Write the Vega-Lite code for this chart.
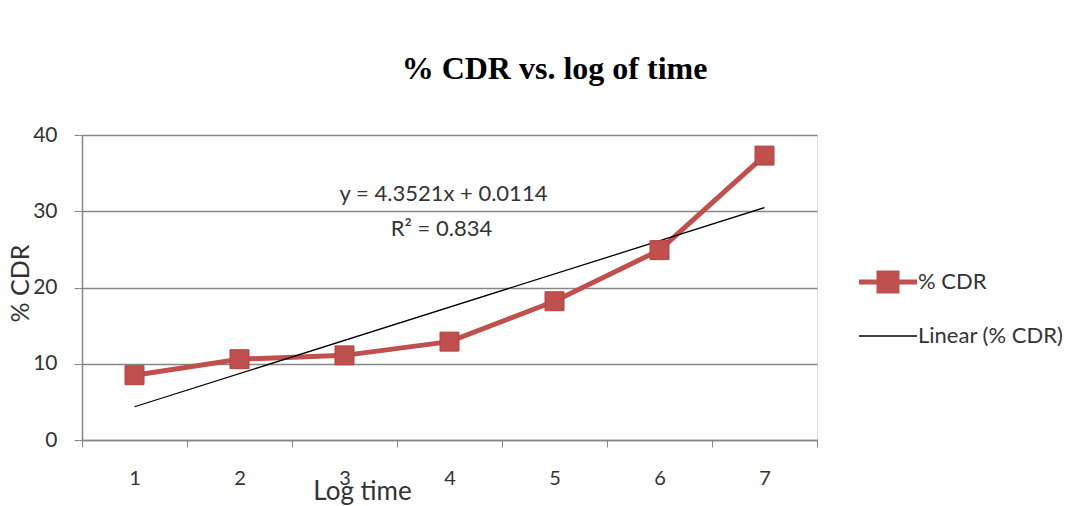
{
  "$schema": "https://vega.github.io/schema/vega-lite/v6.json",
  "width": 735,
  "height": 305,
  "autosize": {"type": "none"},
  "padding": {"left": 82, "top": 135, "right": 273, "bottom": 66},
  "background": "white",
  "title": {
    "text": "% CDR vs. log of time",
    "font": "Liberation Serif",
    "fontSize": 32,
    "fontWeight": "bold",
    "color": "black",
    "anchor": "middle",
    "dx": 105,
    "offset": 38
  },
  "datasets": {
    "cdr": [
      {"t": "1", "v": 8.5, "series": "% CDR"},
      {"t": "2", "v": 10.6, "series": "% CDR"},
      {"t": "3", "v": 11.1, "series": "% CDR"},
      {"t": "4", "v": 12.9, "series": "% CDR"},
      {"t": "5", "v": 18.2, "series": "% CDR"},
      {"t": "6", "v": 24.9, "series": "% CDR"},
      {"t": "7", "v": 37.3, "series": "% CDR"}
    ],
    "trend": [
      {"t": "1", "v": 4.36, "series": "Linear (% CDR)"},
      {"t": "7", "v": 30.48, "series": "Linear (% CDR)"}
    ],
    "eq1": [{"t": "4", "v": 30, "label": "y = 4.3521x + 0.0114"}],
    "eq2": [{"t": "4", "v": 30, "label": "R² = 0.834"}]
  },
  "encoding": {
    "x": {
      "field": "t",
      "type": "ordinal",
      "scale": {"type": "band", "domain": ["1","2","3","4","5","6","7"], "paddingInner": 0, "paddingOuter": 0},
      "axis": {
        "title": "Log time",
        "titleFont": "Lato",
        "titleFontSize": 26,
        "titleFontWeight": "normal",
        "titleColor": "#333333",
        "titleX": 280,
        "titleY": 59,
        "titleAlign": "center",
        "titleBaseline": "alphabetic",
        "labelAngle": 0,
        "labelFont": "Lato",
        "labelFontSize": 20,
        "labelColor": "#333333",
        "labelPadding": 21,
        "tickBand": "extent",
        "tickSize": 7,
        "tickColor": "#868686",
        "domainColor": "#868686",
        "domainWidth": 1.5,
        "grid": false
      }
    },
    "y": {
      "field": "v",
      "type": "quantitative",
      "scale": {"domain": [0, 40], "nice": false, "zero": true},
      "axis": {
        "title": "% CDR",
        "titleFont": "Lato",
        "titleFontSize": 25,
        "titleFontWeight": "normal",
        "titleColor": "#333333",
        "titleX": -62,
        "titleY": 148,
        "titleAlign": "center",
        "titleAngle": -90,
        "titleBaseline": "middle",
        "values": [0, 10, 20, 30, 40],
        "labelFont": "Lato",
        "labelFontSize": 21,
        "labelColor": "#333333",
        "labelPadding": 17,
        "tickSize": 8,
        "tickColor": "#868686",
        "domainColor": "#868686",
        "domainWidth": 1.5,
        "grid": true,
        "gridColor": "#868686",
        "gridWidth": 1.3
      }
    }
  },
  "layer": [
    {
      "data": {"name": "cdr"},
      "mark": {"type": "line", "strokeWidth": 5},
      "encoding": {
        "color": {
          "field": "series",
          "type": "nominal",
          "scale": {"domain": ["% CDR", "Linear (% CDR)"], "range": ["#C0504D", "#000000"]},
          "legend": {
            "title": null,
            "orient": "none",
            "legendX": 795,
            "legendY": 136,
            "symbolSize": 400,
            "symbolType": "square",
            "labelFont": "Lato",
            "labelFontSize": 22,
            "labelColor": "#333333",
            "labelOffset": 19,
            "rowPadding": 24,
            "encode": {
              "symbols": {
                "update": {
                  "shape": {"signal": "datum.value === '% CDR' ? 'M-2.9,0H2.9M-0.9,-0.9H0.9V0.9H-0.9Z' : 'M-2.9,0H2.9'"},
                  "stroke": {"signal": "datum.value === '% CDR' ? '#C0504D' : '#000000'"},
                  "fill": {"signal": "datum.value === '% CDR' ? '#C0504D' : 'transparent'"},
                  "strokeWidth": {"signal": "datum.value === '% CDR' ? 5 : 1.3"},
                  "opacity": {"value": 1},
                  "fillOpacity": {"value": 1},
                  "strokeOpacity": {"value": 1}
                }
              }
            }
          }
        }
      }
    },
    {
      "data": {"name": "trend"},
      "mark": {"type": "line", "strokeWidth": 1.3},
      "encoding": {
        "color": {"field": "series", "type": "nominal", "scale": {"domain": ["% CDR", "Linear (% CDR)"], "range": ["#C0504D", "#000000"]}}
      }
    },
    {
      "data": {"name": "cdr"},
      "mark": {"type": "point", "shape": "square", "filled": true, "size": 360, "opacity": 1, "color": "#C0504D", "stroke": "#B4403D", "strokeWidth": 1},
      "encoding": {}
    },
    {
      "data": {"name": "eq1"},
      "mark": {"type": "text", "font": "Lato", "fontSize": 22, "color": "#333333", "align": "center", "baseline": "alphabetic", "dx": -6, "dy": -10},
      "encoding": {"text": {"field": "label"}}
    },
    {
      "data": {"name": "eq2"},
      "mark": {"type": "text", "font": "Lato", "fontSize": 22, "color": "#333333", "align": "center", "baseline": "alphabetic", "dx": -8, "dy": 25},
      "encoding": {"text": {"field": "label"}}
    }
  ]
}
